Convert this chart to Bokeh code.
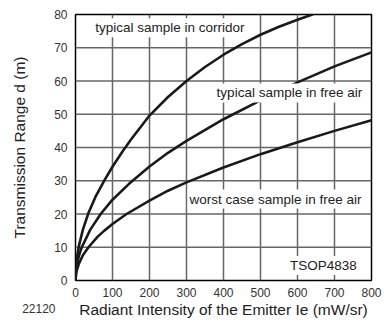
from bokeh.plotting import figure
from bokeh.models import Label, FixedTicker, LinearAxis
from bokeh.embed import file_html
from bokeh.resources import INLINE

# Data (Ie in mW/sr, d in m)
ie_corridor = [0, 2, 5, 10, 20, 35, 55, 80, 100, 127, 150, 200, 250, 300, 350, 400, 450, 500, 550, 600, 640]
d_corridor = [0, 4.5, 7.5, 10.8, 15.3, 20.3, 25.4, 30.5, 34.2, 38.8, 42.4, 49.6, 55.2, 60, 64.2, 67.9, 71.1, 73.9, 76.3, 78.4, 80]

ie_free = [0, 2, 5, 10, 17, 40, 68, 100, 144, 200, 250, 300, 400, 500, 600, 700, 800]
d_free = [0, 3.5, 5.5, 7.7, 10, 15.3, 20, 24.3, 29, 34.3, 38.4, 42, 48.5, 54.2, 59.6, 64.4, 68.6]

ie_worst = [0, 2, 9, 20, 35, 60, 78, 100, 138, 200, 250, 300, 400, 500, 600, 700, 800]
d_worst = [0, 2.5, 5, 7.6, 10, 13.2, 15, 17, 20, 24, 27, 29.5, 34, 38, 41.6, 45, 48.2]

x_ticks = [0, 100, 200, 300, 400, 500, 600, 700, 800]
y_ticks = [0, 10, 20, 30, 40, 50, 60, 70, 80]

FONT = "Liberation Sans"
GRID = "#666666"

p = figure(width=384, height=330, x_range=(x_ticks[0], x_ticks[-1]), y_range=(y_ticks[0], y_ticks[-1]),
           output_backend="svg", toolbar_location=None,
           min_border_left=75, min_border_right=13, min_border_top=14, min_border_bottom=50)
p.outline_line_color = "black"
p.outline_line_width = 1.5
p.grid.visible = False

p.xaxis.ticker = FixedTicker(ticks=x_ticks)
p.yaxis.ticker = FixedTicker(ticks=y_ticks)

def style_axis(ax, size="12px"):
    ax.axis_line_color = None
    ax.major_tick_line_color = None
    ax.minor_tick_line_color = None
    ax.major_tick_out = 0
    ax.major_tick_in = 0
    ax.minor_tick_out = 0
    ax.minor_tick_in = 0
    ax.major_label_text_font = FONT
    ax.major_label_text_font_size = size
    ax.major_label_text_color = "#333333"
    ax.axis_label_text_font = FONT
    ax.axis_label_text_font_size = "15.5px"
    ax.axis_label_text_font_style = "normal"
    ax.axis_label_text_color = "#222222"

for ax in (p.xaxis, p.yaxis):
    style_axis(ax)
p.xaxis.major_label_standoff = 7
p.yaxis.major_label_standoff = 8
p.xaxis.axis_label = "Radiant Intensity of the Emitter Ie (mW/sr)"
p.yaxis.axis_label = "Transmission Range d (m)"
p.xaxis.axis_label_standoff = 1
p.yaxis.axis_label_standoff = 23

# grid lines at the inner tick values (drawn as glyphs, beneath the curves)
gx = x_ticks[1:-1]
gy = y_ticks[1:-1]
p.segment(x0=gx, y0=[y_ticks[0]] * len(gx), x1=gx, y1=[y_ticks[-1]] * len(gx),
          line_color=GRID, line_width=1.5, line_alpha=1.0)
p.segment(x0=[x_ticks[0]] * len(gy), y0=gy, x1=[x_ticks[-1]] * len(gy), y1=gy,
          line_color=GRID, line_width=1.5, line_alpha=1.0)

for xs, ys in ((ie_corridor, d_corridor), (ie_free, d_free), (ie_worst, d_worst)):
    p.line(xs, ys, line_color="#1a1a1a", line_width=2.6, line_join="round", line_cap="round")

def lab(x, y, text):
    p.add_layout(Label(x=x, y=y, text=text, text_font=FONT, text_font_size="13.5px",
                       text_color="#222222", text_align="left", text_baseline="middle",
                       background_fill_color="white", padding=2))

lab(48, 76, "typical sample in corridor")
lab(376, 56.4, "typical sample in free air")
lab(303, 24.5, "worst case sample in free air")
lab(574, 4.5, "TSOP4838")

# figure number, on the row of the x-axis title, left of the frame
cap_axis = LinearAxis(ticker=FixedTicker(ticks=[x_ticks[0]]),
                      major_label_overrides={x_ticks[0]: "22120" + "\u00a0" * 22})
style_axis(cap_axis, size="12px")
cap_axis.major_label_standoff = -19
p.add_layout(cap_axis, "below")

open("out.html", "w").write(file_html(p, INLINE))
